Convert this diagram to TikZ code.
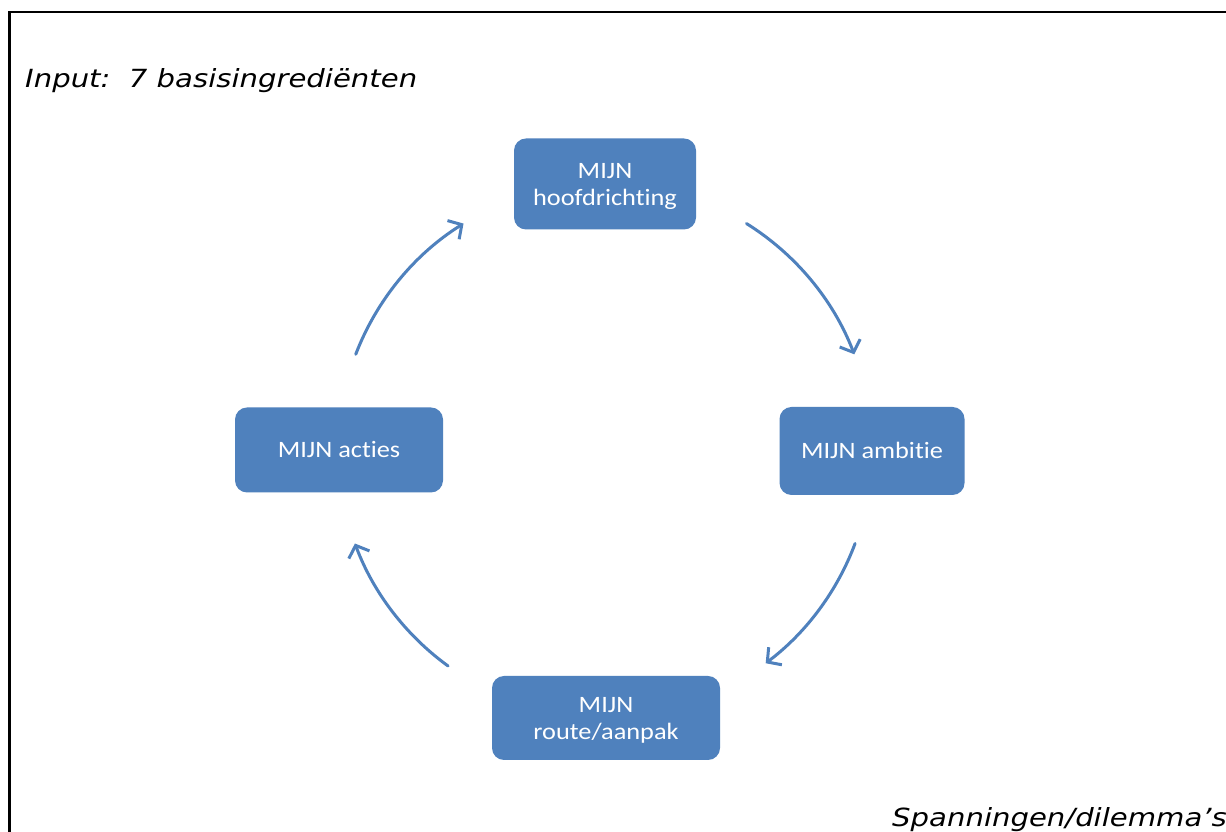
\documentclass[tikz,border=0pt]{standalone}
\usepackage{fontspec}
\usepackage{graphicx}
\setmainfont{DejaVu Sans}
\newfontfamily\boxfont{Carlito}[Ligatures={NoCommon}]
\usetikzlibrary{arrows.meta}
\definecolor{boxblue}{HTML}{4F81BD}
\newcommand{\boxtxt}[1]{\raisebox{-2.5pt}[\height][\depth]{\scalebox{1.12}[1]{\begin{tabular}{@{}c@{}}#1\end{tabular}}}}
\newcommand{\lbltxt}[1]{\scalebox{1.165}[1]{#1}}
\tikzset{
  box/.style={rectangle, rounded corners=12pt, fill=boxblue, text=white,
    font=\boxfont\fontsize{23.5}{27}\selectfont, align=center, inner sep=0pt},
  arr/.style={draw=boxblue, line width=3pt, line cap=round,
    -{Straight Barb[length=10pt,width=22pt,line width=3pt]}},
  lbl/.style={font=\itshape\fontsize{25}{28}\selectfont, inner sep=0pt}
}
\begin{document}
\begin{tikzpicture}[x=1pt,y=1pt]
\useasboundingbox (0,0) rectangle (1226,832);
\fill[white] (0,0) rectangle (1226,832);
\draw[line width=2.5pt] (9.5,0) -- (9.5,820) -- (1226,820);
\node[lbl, anchor=base west] (title) at (25,744) {\lbltxt{Input:\ \ 7 basisingrediënten}};
\node[lbl, anchor=base east] (span) at (1227,5) {\lbltxt{Spanningen/dilemma’s}};
\node[box, minimum width=182pt, minimum height=91pt] (top) at (605,648) {\boxtxt{MIJN\\hoofdrichting}};
\node[box, minimum width=185pt, minimum height=88pt] (right) at (872,381) {\boxtxt{MIJN ambitie}};
\node[box, minimum width=208pt, minimum height=85pt] (left) at (339,382) {\boxtxt{MIJN acties}};
\node[box, minimum width=228pt, minimum height=84pt] (bottom) at (606,114) {\boxtxt{MIJN\\route/aanpak}};
\coordinate (c) at (605,382);
\draw[arr] ([shift={(58:267pt)}]c) arc[start angle=58, end angle=21, radius=267pt];
\draw[arr] ([shift={(-20.5:267pt)}]c) arc[start angle=-20.5, end angle=-53, radius=267pt];
\draw[arr] ([shift={(-126:267pt)}]c) arc[start angle=-126, end angle=-159.5, radius=267pt];
\draw[arr] ([shift={(159:267pt)}]c) arc[start angle=159, end angle=122, radius=267pt];
\end{tikzpicture}
\end{document}
